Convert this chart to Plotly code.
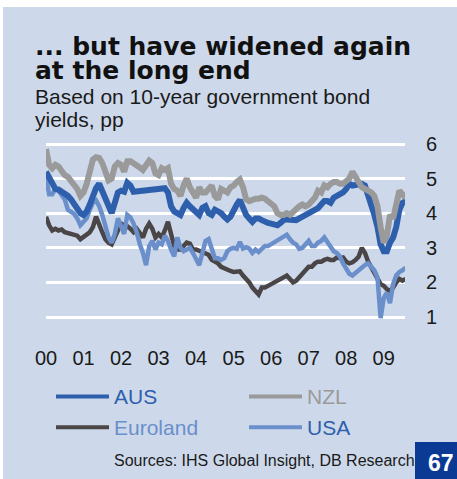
import plotly.graph_objects as go

# ---------------- data (monthly, Jan 2000 = month 0) ----------------
months = list(range(116))
year_ticks = [0, 12, 24, 36, 48, 60, 72, 84, 96, 108]
year_labels = ["00", "01", "02", "03", "04", "05", "06", "07", "08", "09"]
y_ticks = [1, 2, 3, 4, 5, 6]

aus = [5.2, 5.0, 4.85, 4.7, 4.68, 4.63, 4.58, 4.5, 4.4, 4.25, 4.15, 4.0,
       3.95, 4.05, 4.25, 4.5, 4.72, 4.85, 4.65, 4.45, 4.15, 4.0, 4.3, 4.6,
       4.65, 4.62, 4.88, 4.8, 4.62, 4.63, 4.64, 4.65, 4.66, 4.67, 4.68, 4.69,
       4.7, 4.71, 4.72, 4.6, 4.2, 4.05, 4.0, 3.95, 4.15, 4.3, 4.2, 4.1,
       4.05, 3.95, 4.15, 4.2, 4.0, 3.95, 4.1, 4.05, 4.0, 3.9, 3.82, 3.9,
       4.1, 4.25, 4.38, 4.15, 3.95, 3.85, 3.75, 3.85, 3.85, 3.8, 3.75, 3.72,
       3.7, 3.68, 3.65, 3.72, 3.8, 3.82, 3.8, 3.82, 3.8, 3.85, 3.9, 3.95,
       4.0, 4.05, 4.1, 4.15, 4.25, 4.35, 4.35, 4.3, 4.45, 4.5, 4.55, 4.6,
       4.7, 4.85, 4.8, 4.82, 4.85, 4.85, 4.8, 4.55, 4.3, 3.95, 3.6, 3.1,
       2.9, 2.9, 3.15, 3.3, 3.6, 4.1, 4.3, 4.35]

nzl = [5.85, 5.4, 5.3, 5.4, 5.35, 5.2, 5.1, 5.05, 4.95, 4.85, 4.7, 4.5,
       4.6, 4.85, 5.3, 5.55, 5.62, 5.6, 5.45, 5.2, 4.95, 5.0, 5.35, 5.45,
       5.4, 5.2, 5.5, 5.5, 5.45, 5.4, 5.32, 5.25, 5.42, 5.52, 5.45, 5.15,
       5.1, 5.3, 5.25, 5.3, 4.85, 4.7, 4.65, 4.5, 4.8, 5.0, 4.75, 4.6,
       4.45, 4.75, 4.6, 4.6, 4.7, 4.8, 4.5, 4.4, 4.7, 4.65, 4.6, 4.75,
       4.8, 4.9, 4.97, 4.75, 4.4, 4.35, 4.4, 4.42, 4.42, 4.45, 4.42, 4.35,
       4.3, 4.2, 4.0, 3.95, 3.95, 4.0, 3.95, 4.05, 4.15, 4.2, 4.25, 4.2,
       4.25, 4.35, 4.45, 4.65, 4.6, 4.8, 4.75, 4.85, 4.9, 4.9, 4.85, 4.85,
       4.95, 5.0, 5.2, 5.05, 4.85, 4.75, 4.7, 4.65, 4.6, 4.5, 4.2, 3.6,
       3.15, 3.35, 3.95, 3.85, 4.3, 4.65, 4.55, 4.45]

euro = [3.9, 3.65, 3.5, 3.55, 3.5, 3.53, 3.45, 3.42, 3.4, 3.38, 3.35, 3.25,
        3.3, 3.38, 3.45, 3.6, 3.9, 3.65, 3.45, 3.25, 3.15, 3.1, 3.3, 3.55,
        3.7, 3.65, 3.62, 3.55, 3.45, 3.55, 3.4, 3.3, 3.55, 3.7, 3.55, 3.3,
        3.4, 3.3, 3.5, 3.75, 3.4, 3.05, 2.95, 2.95, 3.05, 3.15, 3.12, 2.95,
        2.95, 2.92, 2.88, 2.85, 2.8, 2.65, 2.6, 2.55, 2.45, 2.4, 2.35, 2.33,
        2.3, 2.3, 2.32, 2.2, 2.1, 2.0, 1.85, 1.75, 1.65, 1.85, 1.85, 1.9,
        1.95, 2.0, 2.05, 2.1, 2.15, 2.2, 2.1, 2.0, 2.05, 2.15, 2.25, 2.35,
        2.45, 2.45, 2.55, 2.6, 2.6, 2.65, 2.68, 2.65, 2.65, 2.72, 2.7, 2.72,
        2.6, 2.55, 2.58, 2.65, 2.75, 3.0, 2.85, 2.6, 2.45, 2.3, 2.1, 1.95,
        1.9, 1.8, 1.75, 1.85, 2.0, 2.1, 2.05, 2.1]

usa = [5.05, 4.55, 4.55, 4.7, 4.65, 4.5, 4.4, 4.1, 4.05, 3.98, 3.85, 3.65,
       3.75, 3.85, 4.1, 4.3, 4.37, 4.2, 3.95, 3.6, 3.3, 3.15, 3.4, 3.85,
       3.65, 3.4, 3.95, 3.88, 3.7, 3.45, 3.1, 2.85, 2.5, 3.05, 3.2, 2.95,
       3.15, 3.1, 3.35, 3.2, 2.95, 2.75, 3.3, 3.0, 2.9, 2.95, 3.0, 2.85,
       2.65, 2.5, 2.85, 3.2, 3.25, 2.95, 2.7, 2.7, 2.65, 2.7, 2.9, 2.97,
       3.0, 2.97, 3.17, 2.98, 3.02, 2.98, 2.85, 2.95, 2.88, 2.97, 3.05, 3.05,
       3.1, 3.18, 3.22, 3.25, 3.32, 3.38, 3.25, 3.15, 3.1, 2.97, 3.0, 3.1,
       3.2, 3.05, 3.05, 3.15, 3.2, 3.3, 3.15, 3.0, 2.9, 2.85, 2.75, 2.55,
       2.4, 2.25, 2.2, 2.28, 2.38, 2.42, 2.5, 2.55, 2.45, 2.35, 2.15, 0.97,
       1.55, 1.7, 1.4, 1.95, 2.2, 2.3, 2.35, 2.42]

# ---------------- styling ----------------
W, H = 457, 479
L, R, T, B = 46, 52, 137, 155
PW, PH = W - L - R, H - T - B
K = 34.6                      # px per percentage point
Y_TOP_V = 6 + (144 - T) / K
Y_BOT_V = 6 - (T + PH - 144) / K

BG = "#cdd9ea"
C_AUS = "#2e5fad"
C_NZL = "#9a9a9a"
C_EUR = "#4a4546"
C_USA = "#6a8fcb"
C_TXT = "#1a1a1a"


def px(x):
    return (x - L) / PW


def py(y):
    return (T + PH - y) / PH


fig = go.Figure()
fig.add_trace(go.Scatter(x=months, y=euro, mode="lines", name="Euroland",
                         line=dict(color=C_EUR, width=4.5)))
fig.add_trace(go.Scatter(x=months, y=usa, mode="lines", name="USA",
                         line=dict(color=C_USA, width=4.5)))
fig.add_trace(go.Scatter(x=months, y=aus, mode="lines", name="AUS",
                         line=dict(color=C_AUS, width=6)))
fig.add_trace(go.Scatter(x=months, y=nzl, mode="lines", name="NZL",
                         line=dict(color=C_NZL, width=6)))

ann = []
shapes = []

# white strips at top / left edge
shapes.append(dict(type="rect", xref="paper", yref="paper", x0=px(-2), x1=px(W + 2),
                   y0=py(7), y1=py(-2), fillcolor="white", line=dict(width=0)))
shapes.append(dict(type="rect", xref="paper", yref="paper", x0=px(-2), x1=px(3),
                   y0=py(H + 2), y1=py(-2), fillcolor="white", line=dict(width=0)))

# title / subtitle
title_font = dict(family="DejaVu Sans", size=25, color="#111111")
sub_font = dict(family="Liberation Sans, Arial", size=21, color=C_TXT)
for txt, yc, f in [("<b>... but have widened again</b>", 46, title_font),
                   ("<b>at the long end</b>", 71, title_font),
                   ("Based on 10-year government bond", 96.5, sub_font),
                   ("yields, pp", 119.5, sub_font)]:
    ann.append(dict(text=txt, xref="paper", yref="paper", x=px(33), y=py(yc),
                    xanchor="left", yanchor="middle", showarrow=False, font=f))

# legend (custom)
leg_font = dict(family="Liberation Sans, Arial", size=21)
legend_items = [("AUS", C_AUS, C_AUS, 56, 396.5),
                ("NZL", C_NZL, C_NZL, 249, 396.5),
                ("Euroland", C_EUR, C_USA, 56, 427.3),
                ("USA", C_USA, C_AUS, 249, 427.3)]
for name, lc, tc, x0, yc in legend_items:
    shapes.append(dict(type="line", xref="paper", yref="paper", x0=px(x0), x1=px(x0 + 53),
                       y0=py(yc), y1=py(yc), line=dict(color=lc, width=4)))
    ann.append(dict(text=name, xref="paper", yref="paper", x=px(x0 + 56), y=py(yc),
                    xanchor="left", yanchor="middle", showarrow=False,
                    font=dict(leg_font, color=tc)))

# source
ann.append(dict(text="Sources: IHS Global Insight, DB Research", xref="paper", yref="paper",
                x=px(112), y=py(460.5), xanchor="left", yanchor="middle", showarrow=False,
                font=dict(family="Liberation Sans, Arial", size=16, color=C_TXT)))

# page number box
shapes.append(dict(type="rect", xref="paper", yref="paper", x0=px(415), x1=px(W + 2),
                   y0=py(H + 2), y1=py(442), fillcolor="#0a3a94", line=dict(width=0)))
ann.append(dict(text="<b>67</b>", xref="paper", yref="paper", x=px(440.5), y=py(463),
                xanchor="center", yanchor="middle", showarrow=False,
                font=dict(family="Liberation Sans, Arial", size=23, color="white")))

fig.update_layout(
    width=W, height=H,
    margin=dict(l=L, r=R, t=T, b=B, pad=0),
    paper_bgcolor=BG, plot_bgcolor=BG,
    showlegend=False,
    annotations=ann, shapes=shapes,
    xaxis=dict(range=[0, 114.8], tickvals=year_ticks, ticktext=year_labels,
               showgrid=False, zeroline=False, showline=False, ticks="",
               ticklabelstandoff=20,
               tickfont=dict(family="Liberation Sans, Arial", size=20, color=C_TXT)),
    yaxis=dict(range=[Y_BOT_V, Y_TOP_V], tickvals=y_ticks, side="right",
               showgrid=True, gridcolor="white", gridwidth=2.5, zeroline=False,
               showline=False, ticks="", ticklabelstandoff=20,
               tickfont=dict(family="Liberation Sans, Arial", size=20, color=C_TXT)),
)

fig.write_html("out.html", config={"displayModeBar": False},
               post_script="document.body.style.margin='0';document.body.style.overflow='hidden';")
